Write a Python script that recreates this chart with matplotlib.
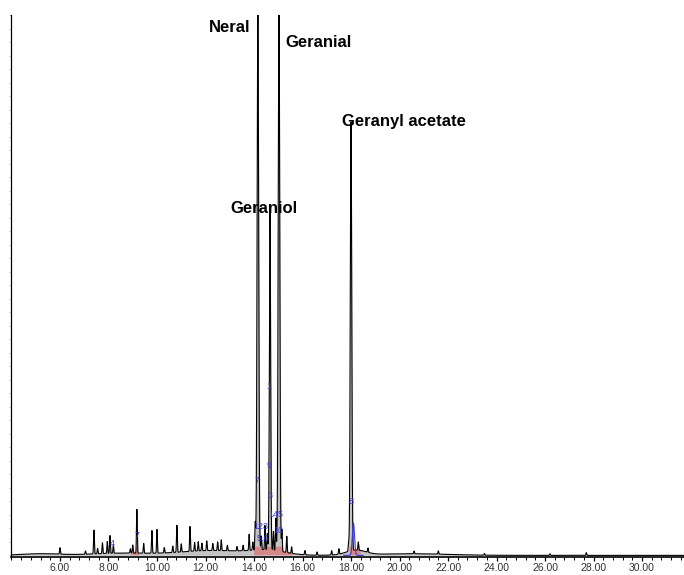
import numpy as np
import matplotlib.pyplot as plt
from matplotlib.ticker import MultipleLocator, FormatStrFormatter

plt.rcParams['font.family'] = ['Liberation Sans', 'DejaVu Sans']

# peak table: retention time (min), height (% of full scale), width (min)
peak_time = [14.16, 14.66, 15.03, 18.00]
peak_height = [100.5, 62.4, 101.0, 79.3]
peak_width = [0.032, 0.026, 0.032, 0.03]
peak_names = ['Neral', 'Geraniol', 'Geranial', 'Geranyl acetate']

small_time = [6.0, 7.05, 7.4, 7.55, 7.75, 7.95, 8.06, 8.2, 8.9, 9.0, 9.17, 9.45,
              9.79, 10.0, 10.3, 10.65, 10.82, 11.0, 11.36, 11.55, 11.7, 11.85,
              12.05, 12.3, 12.5, 12.65, 12.9, 13.3, 13.55, 13.8, 13.95, 14.05,
              14.3, 14.45, 14.55, 14.8, 14.9, 15.15, 15.35, 15.55, 16.1, 16.6,
              17.2, 17.5, 17.9, 18.3, 18.7, 20.6, 21.6, 23.5, 26.2, 27.7]
small_height = [1.2, 0.6, 4.4, 1.0, 2.0, 2.2, 3.3, 1.5, 0.8, 1.5, 8.1, 1.8,
                4.2, 4.4, 1.0, 1.2, 5.0, 1.5, 4.6, 1.6, 1.7, 1.4,
                1.8, 1.3, 1.6, 2.0, 1.0, 0.8, 1.0, 3.0, 1.5, 5.0,
                2.5, 4.5, 3.0, 3.5, 6.0, 4.0, 3.0, 1.2, 0.8, 0.6,
                0.8, 1.0, 1.5, 1.5, 0.8, 0.5, 0.6, 0.3, 0.3, 0.5]

# broad baseline drift humps: time, height, width
drift_time = [5.2, 8.5, 12.3, 14.6, 18.2, 20.5]
drift_height = [0.3, 0.4, 0.9, 0.8, 0.9, 0.3]
drift_width = [0.8, 1.2, 1.4, 0.7, 0.4, 1.5]

# second (blue) trace around geranyl acetate
blue_time = [18.1]
blue_height = [6.0]

# blue integration labels: text, time, height
int_labels = ['1', '9', '7', '3', '145', '123', '5.6', '10', '8', '4', '7']
int_time = [14.62, 14.62, 14.14, 14.66, 14.92, 14.29, 14.37, 15.02, 18.0, 8.14, 9.17]
int_y = [31.2, 16.6, 13.8, 11.1, 7.6, 5.4, 3.1, 4.6, 10.0, 2.2, 3.7]

t = np.linspace(3.9, 31.8, 14000)


def gauss(t0, h, w):
    return h * np.exp(-0.5 * ((t - t0) / w) ** 2)


trace = np.zeros_like(t)
for t0, h, w in zip(peak_time, peak_height, peak_width):
    trace += gauss(t0, h, w)
for t0, h in zip(small_time, small_height):
    trace += gauss(t0, h, 0.016)
for t0, h, w in zip(drift_time, drift_height, drift_width):
    trace += gauss(t0, h, w)

blue = np.zeros_like(t)
for t0, h in zip(blue_time, blue_height):
    blue += gauss(t0, h, 0.045)

fig = plt.figure(figsize=(6.84, 5.75), dpi=100)
ax = fig.add_axes([11 / 684, 18 / 575, 673 / 684, 542 / 575])

ax.fill_between(t, 0, trace, color='#c4c4c4', lw=0)
red = ((t > 14.0) & (t < 15.6)) | ((t > 17.95) & (t < 18.4)) | ((t > 8.95) & (t < 9.25))
ax.fill_between(t, 0, np.minimum(trace, 1.6), where=red, color='#e06060', lw=0, alpha=0.6)
ax.plot(t, trace, color='black', lw=0.8)
near = (t > 17.7) & (t < 18.5)
ax.plot(t[near], blue[near], color='#3a3ad0', lw=0.8)

for s, x, y in zip(int_labels, int_time, int_y):
    ax.text(x, y, s, color='#3a3ad0', fontsize=6.5, ha='center', va='center')

ax.text(13.84, 97.6, 'Neral', fontsize=12, fontweight='bold', ha='right', va='center')
ax.text(15.28, 95.0, 'Geranial', fontsize=12, fontweight='bold', ha='left', va='center')
ax.text(14.41, 64.2, 'Geraniol', fontsize=12, fontweight='bold', ha='center', va='center')
ax.text(20.19, 80.3, 'Geranyl acetate', fontsize=12, fontweight='bold', ha='center', va='center')

ax.set_xlim(3.98, 31.73)
ax.set_ylim(-0.3, 100)
for side in ['top', 'right']:
    ax.spines[side].set_visible(False)
ax.spines['bottom'].set_linewidth(1.2)
ax.spines['left'].set_linewidth(0.9)

ax.xaxis.set_minor_locator(MultipleLocator(0.4))
ax.xaxis.set_major_formatter(FormatStrFormatter('%.2f'))
ax.set_xticks(np.arange(6, 31, 2))
ax.tick_params(axis='x', which='major', length=3, width=0.9, labelsize=7.5, labelcolor='#333333', pad=1)
ax.tick_params(axis='x', which='minor', length=2, width=0.7)
ax.yaxis.set_minor_locator(MultipleLocator(2.5))
ax.set_yticks([])
ax.tick_params(axis='y', which='minor', length=1.5, width=0.4, color='#999999')

fig.savefig('out.png', dpi=100)
